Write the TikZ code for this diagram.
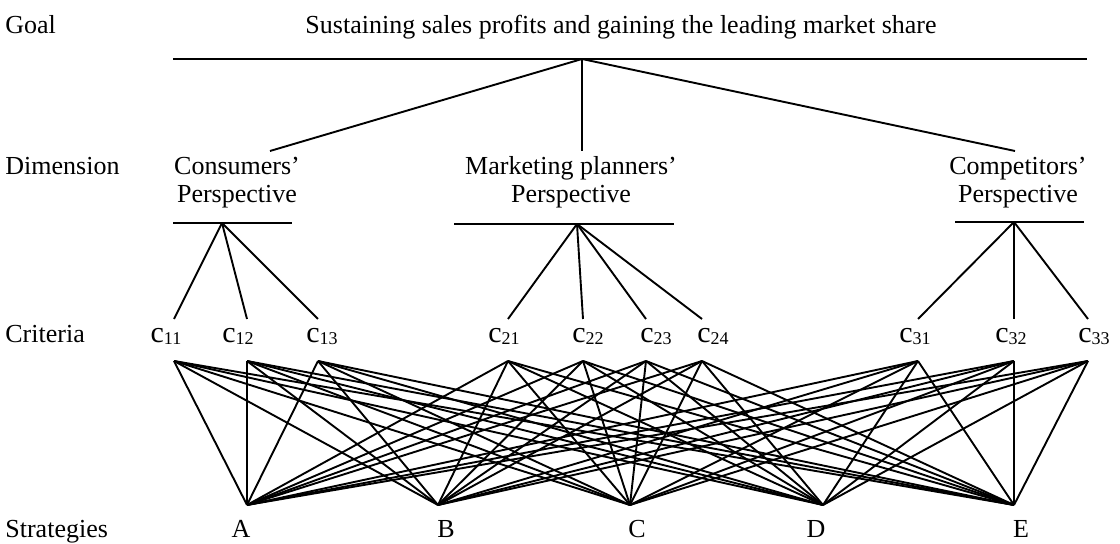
\documentclass[tikz,border=0pt]{standalone}
\usepackage{fontspec}
\setmainfont{Liberation Serif}

% subscript of a criterion label
\newcommand{\cidx}[1]{\raisebox{-1pt}{\fontsize{9}{10}\selectfont #1}}

\begin{document}
\begin{tikzpicture}[x=0.5pt, y=-0.5pt,
    levelname/.style={anchor=base west, inner sep=0pt, font=\fontsize{13}{14}\selectfont},
    heading/.style={anchor=base, inner sep=0pt, align=center, font=\fontsize{13}{14}\selectfont},
    critnode/.style={anchor=base, inner sep=0pt, font=\fontsize{15}{16}\selectfont},
    stratnode/.style={anchor=base, inner sep=0pt, font=\fontsize{13}{14}\selectfont},
    bar/.style={line width=1.4pt},
    link/.style={line width=0.95pt},
  ]
  \useasboundingbox (0,0) rectangle (1120,544);

  %Nodes
  \node[levelname] (goal_lbl)  at (5,34)  {Goal};
  \node[levelname] (dim_lbl)   at (5,175) {Dimension};
  \node[levelname] (crit_lbl)  at (5,343) {Criteria};
  \node[levelname] (strat_lbl) at (5,538) {Strategies};

  % two-line headings sit on the baseline of their last line
  \node[heading] (goal) at (621,34) {Sustaining sales profits and gaining the leading market share};
  \node[heading] (cons) at (237,203)  {Consumers'\\Perspective};
  \node[heading] (plan) at (571,203)  {Marketing planners'\\Perspective};
  \node[heading] (comp) at (1018,203) {Competitors'\\Perspective};

  % criteria: index / label x / link x
  \foreach \n/\lx/\cx in {11/166/174, 12/238/247, 13/322/318,
                          21/504/508, 22/588/583, 23/656/646, 24/713/702,
                          31/915/918, 32/1011/1014, 33/1094/1088}{
    \node[critnode] (c\n) at (\lx,343) {c\cidx{\n}};
    \coordinate (c\n-top) at (\cx,319);
    \coordinate (c\n-bot) at (\cx,361);
  }

  % strategies: name / label x / link x
  \foreach \s/\lx/\ax in {A/241/247, B/446/438, C/637/630, D/816/823, E/1021/1014}{
    \node[stratnode] (\s) at (\lx,538) {\s};
    \coordinate (\s-top) at (\ax,505);
  }

  % apex points and line ends
  \coordinate (goal-apex) at (582,59);
  \coordinate (cons-end)  at (270,151);
  \coordinate (plan-end)  at (582,151);
  \coordinate (comp-end)  at (1015,151);
  \coordinate (cons-apex) at (222,223);
  \coordinate (plan-apex) at (577,224);
  \coordinate (comp-apex) at (1014,222);

  %Lines
  \draw[bar] (173,59) -- (1087,59);
  \draw[bar] (173,223) -- (292,223);
  \draw[bar] (454,224) -- (674,224);
  \draw[bar] (955,222) -- (1084,222);

  \foreach \d in {cons,plan,comp}
    \draw[link] (goal-apex) -- (\d-end);

  \foreach \n in {11,12,13}
    \draw[link] (cons-apex) -- (c\n-top);
  \foreach \n in {21,22,23,24}
    \draw[link] (plan-apex) -- (c\n-top);
  \foreach \n in {31,32,33}
    \draw[link] (comp-apex) -- (c\n-top);

  \foreach \n in {11,12,13,21,22,23,24,31,32,33}
    \foreach \s in {A,B,C,D,E}
      \draw[link] (c\n-bot) -- (\s-top);
\end{tikzpicture}
\end{document}
